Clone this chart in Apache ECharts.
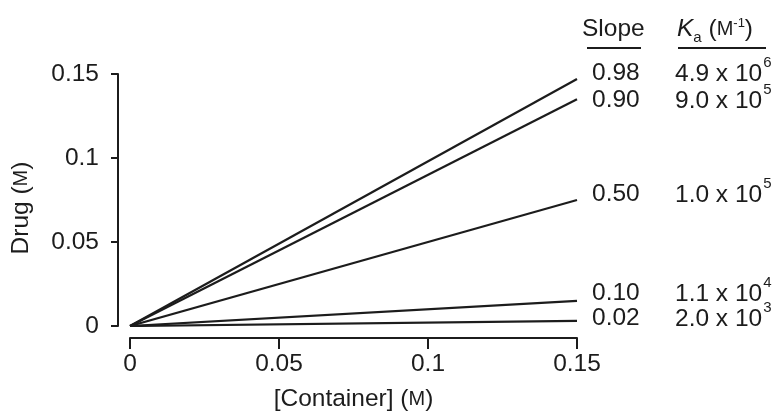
<!DOCTYPE html>
<html>
<head>
<meta charset="utf-8">
<script src="https://cdn.jsdelivr.net/npm/echarts@6/dist/echarts.min.js"></script>
<style>
html,body{margin:0;padding:0;background:#fff;}
#c{width:783px;height:417px;}
</style>
</head>
<body>
<div id="c"></div>
<script>
// ---- data ----
var slopes = [0.98, 0.90, 0.50, 0.10, 0.02];
var slopeLabels = ['0.98', '0.90', '0.50', '0.10', '0.02'];
var kaMantissa = ['4.9', '9.0', '1.0', '1.1', '2.0'];
var kaExponent = ['6', '5', '5', '4', '3'];
var xMaxContainer = 0.15;
var xTicks = [0, 0.05, 0.1, 0.15];
var yTicks = [0, 0.05, 0.1, 0.15];
var xTickLabels = ['0', '0.05', '0.1', '0.15'];
var yTickLabels = ['0', '0.05', '0.1', '0.15'];

// ---- layout (pixels) ----
var rowY = [73, 100, 194, 293, 318];
var slopeX = 592, kaX = 675;

var FONT = '"Liberation Sans", Arial, Helvetica, sans-serif';
var INK = '#1c1c1c';
var FS = 24.5;
var SC = 20;

var chart = echarts.init(document.getElementById('c'), null, {renderer: 'canvas'});

var series = slopes.map(function (s, i) {
  return {
    type: 'line',
    name: slopeLabels[i],
    data: [[0, 0], [xMaxContainer, xMaxContainer * s]],
    showSymbol: false,
    symbol: 'none',
    lineStyle: {color: INK, width: 2.2},
    silent: true,
    animation: false
  };
});

var graphics = [];
// headers
graphics.push({
  type: 'text', left: 582, top: 17,
  style: {text: 'Slope', font: FS + 'px ' + FONT, fill: INK}
});
graphics.push({
  type: 'line', shape: {x1: 587, y1: 48, x2: 641, y2: 48},
  style: {stroke: INK, lineWidth: 2.2}
});
graphics.push({
  type: 'text', left: 677, top: 13,
  style: {
    text: '{k|K}{sub|a}{n| (}{sc|M}{sup|-1}{n|)}',
    rich: {
      k: {fontFamily: FONT, fontSize: FS, fontStyle: 'italic', fill: INK, lineHeight: 32, verticalAlign: 'middle'},
      sub: {fontFamily: FONT, fontSize: 15, fill: INK, verticalAlign: 'bottom', lineHeight: 15},
      n: {fontFamily: FONT, fontSize: FS, fill: INK, lineHeight: 32, verticalAlign: 'middle'},
      sc: {fontFamily: FONT, fontSize: SC, fill: INK, lineHeight: 32, verticalAlign: 'middle'},
      sup: {fontFamily: FONT, fontSize: 13, fill: INK, verticalAlign: 'top', lineHeight: 13, padding: [4, 0, 0, 0]}
    }
  }
});
graphics.push({
  type: 'line', shape: {x1: 678, y1: 48, x2: 766, y2: 48},
  style: {stroke: INK, lineWidth: 2.2}
});

slopes.forEach(function (s, i) {
  graphics.push({
    type: 'text', left: slopeX, top: rowY[i] - 12,
    style: {text: slopeLabels[i], font: FS + 'px ' + FONT, fill: INK}
  });
  graphics.push({
    type: 'text', left: kaX, top: rowY[i] - 24,
    style: {
      text: '{m|' + kaMantissa[i] + ' x 10}{sup|' + kaExponent[i] + '}',
      rich: {
        m: {fontFamily: FONT, fontSize: FS, fill: INK, lineHeight: 38, verticalAlign: 'bottom'},
        sup: {fontFamily: FONT, fontSize: 15, fill: INK, lineHeight: 15, verticalAlign: 'top', padding: [6, 0, 0, 1]}
      }
    }
  });
});

var option = {
  backgroundColor: '#fff',
  animation: false,
  grid: {left: 130, top: 74, width: 447, height: 252, containLabel: false},
  xAxis: {
    type: 'value', min: 0, max: 0.15, interval: 0.05,
    offset: 12,
    splitLine: {show: false},
    axisLine: {show: true, onZero: false, lineStyle: {color: INK, width: 2}},
    axisTick: {show: true, inside: false, length: 11, lineStyle: {color: INK, width: 2}},
    axisLabel: {
      margin: 14, color: INK, fontFamily: FONT, fontSize: FS,
      formatter: function (v) {
        for (var i = 0; i < xTicks.length; i++) if (Math.abs(v - xTicks[i]) < 1e-9) return xTickLabels[i];
        return '';
      }
    },
    name: '{n|[Container] (}{sc|M}{n|)}',
    nameLocation: 'middle', nameGap: 49,
    nameTextStyle: {
      rich: {
        n: {fontFamily: FONT, fontSize: FS, color: INK},
        sc: {fontFamily: FONT, fontSize: SC, color: INK}
      }
    }
  },
  yAxis: {
    type: 'value', min: 0, max: 0.15, interval: 0.05,
    offset: 12,
    splitLine: {show: false},
    axisLine: {show: true, onZero: false, lineStyle: {color: INK, width: 2}},
    axisTick: {show: true, inside: false, length: 7, lineStyle: {color: INK, width: 2}},
    axisLabel: {
      margin: 19, color: INK, fontFamily: FONT, fontSize: FS,
      formatter: function (v) {
        for (var i = 0; i < yTicks.length; i++) if (Math.abs(v - yTicks[i]) < 1e-9) return yTickLabels[i];
        return '';
      }
    },
    name: '{n|Drug (}{sc|M}{n|)}',
    nameLocation: 'middle', nameGap: 84, nameRotate: 90,
    nameTextStyle: {
      padding: [0, 16, 0, 0],
      rich: {
        n: {fontFamily: FONT, fontSize: FS, color: INK},
        sc: {fontFamily: FONT, fontSize: SC, color: INK}
      }
    }
  },
  series: series,
  graphic: graphics
};
chart.setOption(option);
</script>
</body>
</html>
